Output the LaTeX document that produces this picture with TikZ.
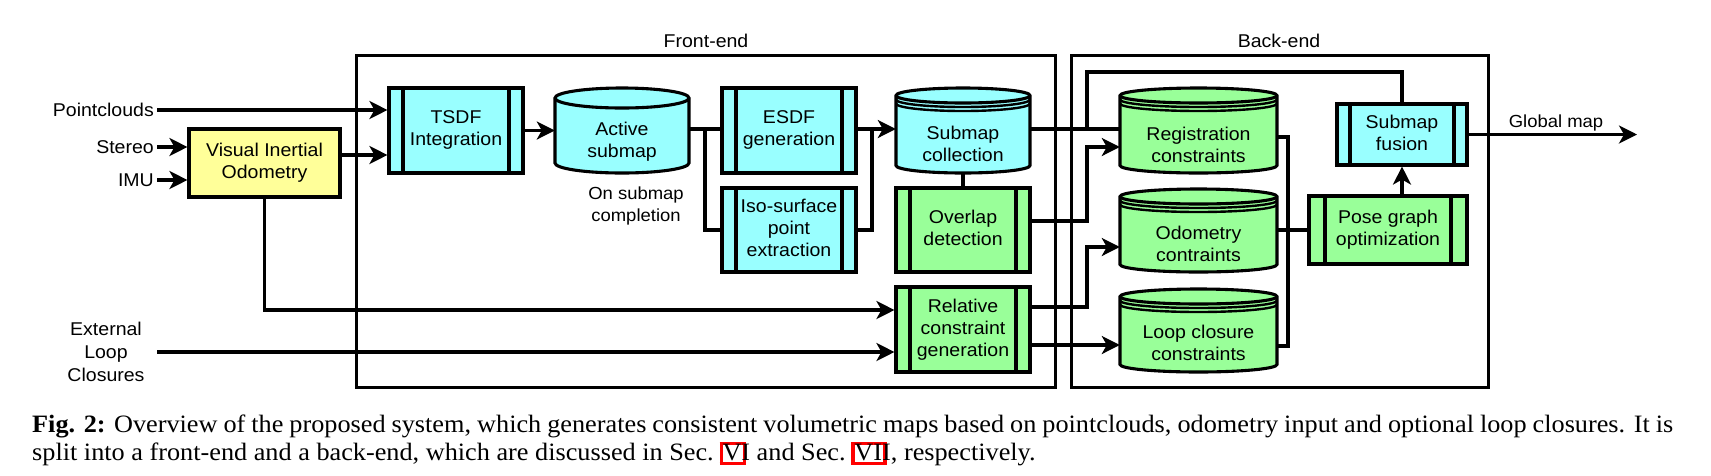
\documentclass[tikz,border=0pt]{standalone}
\usepackage{fontspec}
\setmainfont{Liberation Serif}[FakeStretch=1.05]
\setsansfont{Liberation Sans}[FakeStretch=1.055]
\usetikzlibrary{arrows.meta}
\definecolor{cyanf}{HTML}{99FFFF}
\definecolor{greenf}{HTML}{99FF99}
\definecolor{yellowf}{HTML}{FFFF99}
\newcommand\lnkbox[1]{\makebox[0pt][l]{\kern-3pt\textcolor{red}{\setlength\fboxrule{3.2pt}\setlength\fboxsep{0pt}\raisebox{-1.5pt}{\fbox{\rule{0pt}{16pt}\kern0.5pt\phantom{#1}\kern0.5pt}}}}#1}
\newcommand\cylshape[7]{%
  \pgfmathsetmacro\cylrx{(#3-#1)/2}%
  \filldraw[line width=3.1pt, fill=#6] (#1,{#2+#5}) -- (#1,{#4-#5})
    arc[start angle=180, end angle=360, x radius=\cylrx pt, y radius=#5pt]
    -- (#3,{#2+#5})
    arc[start angle=0, end angle=180, x radius=\cylrx pt, y radius=#5pt] -- cycle;
  \draw[line width=3.1pt] (#1,{#2+#5}) arc[start angle=180, end angle=360, x radius=\cylrx pt, y radius=#5pt];
  \ifnum#7=1
    \draw[line width=2.4pt] (#1,{#2+#5+4}) arc[start angle=180, end angle=360, x radius=\cylrx pt, y radius=#5pt];
    \draw[line width=2.4pt] (#1,{#2+#5+8}) arc[start angle=180, end angle=360, x radius=\cylrx pt, y radius=#5pt];
  \fi
}
\begin{document}
\begin{tikzpicture}[x=1pt,y=-1pt,
  every node/.style={font=\sffamily\fontsize{18.5}{22}\selectfont, inner sep=0pt, align=center},
  lbl/.style={inner xsep=3pt},
  small/.style={font=\sffamily\fontsize{17.5}{21.5}\selectfont},
  txt/.style={execute at begin node={\rule{0pt}{19pt}}, execute at end node={\rule[-4pt]{0pt}{4pt}}},
  bars/.style={path picture={\draw[line width=3.1pt]
      ([xshift=#1]path picture bounding box.north west) -- ([xshift=#1]path picture bounding box.south west)
      ([xshift=-#1]path picture bounding box.north east) -- ([xshift=-#1]path picture bounding box.south east);}},
  proc/.style={txt, draw, line width=3.1pt, fill=cyanf, minimum width=134pt, minimum height=85pt, bars=14pt},
  frame/.style={draw, line width=3pt, minimum height=332pt},
  ln/.style={line width=3.1pt},
  arr/.style={line width=3.1pt, -{Stealth[length=18pt,width=18pt,inset=5pt]}},
  capf/.style={font=\rmfamily\fontsize{25}{28}\selectfont, anchor=base west, align=left}
]
\fill[white] (0,0) rectangle (1711,475);
\useasboundingbox (0,0) rectangle (1711,475);

% group frames
\node[frame, minimum width=699pt] (fe) at (705.5,221) {};
\node[frame, minimum width=417pt] (be) at (1279.5,221) {};
\node (fel) at (706,41) {Front-end};
\node (bel) at (1279,41) {Back-end};

% inputs
\node[lbl, anchor=east] (pcl) at (157,110) {Pointclouds};
\node[lbl, anchor=east] (ster) at (157,147) {Stereo};
\node[lbl, anchor=east] (imu) at (157,180) {IMU};
\node[font=\sffamily\fontsize{18.5}{23}\selectfont] (ext) at (106,352) {External\\Loop\\Closures};
\coordinate (extout) at (157,352);

% front-end
\node[txt, draw, line width=3.1pt, fill=yellowf, minimum width=151pt, minimum height=68pt] (vio) at (264.5,163) {Visual Inertial\\Odometry};
\node[proc] (tsdf) at (456,130.5) {TSDF\\Integration};
\cylshape{555}{88}{689}{173}{10}{cyanf}{0}
\node[txt, minimum width=134pt] (act) at (622,141.5) {Active\\submap};
\node[small] (onsc) at (636,206) {On submap\\completion};
\node[proc] (esdf) at (789,130.5) {ESDF\\generation};
\node[proc, minimum height=84pt] (iso) at (789,230) {Iso-surface\\point\\extraction};
\cylshape{896}{88}{1030}{173}{7.5}{cyanf}{1}
\node[txt, minimum width=134pt] (sc) at (963,146) {Submap\\collection};
\node[proc, fill=greenf, minimum height=84pt] (ov) at (963,230) {Overlap\\detection};
\node[proc, fill=greenf] (rel) at (963,329.5) {Relative\\constraint\\generation};

% back-end
\cylshape{1120}{88}{1277}{173}{7.5}{greenf}{1}
\node[txt, minimum width=157pt] (reg) at (1198.5,146.5) {Registration\\constraints};
\cylshape{1120}{189}{1277}{272}{7.5}{greenf}{1}
\node[txt, minimum width=157pt] (odo) at (1198.5,245.5) {Odometry\\contraints};
\cylshape{1120}{289}{1277}{372}{7.5}{greenf}{1}
\node[txt, minimum width=157pt] (loop) at (1198.5,345) {Loop closure\\constraints};
\node[proc, fill=greenf, bars=16pt, minimum width=158pt, minimum height=68pt] (pose) at (1388,230) {Pose graph\\optimization};
\node[proc, bars=13pt, minimum width=130pt, minimum height=61pt] (fus) at (1402,134.5) {Submap\\fusion};
\coordinate (gm) at (1637,134.5);
\node[small, anchor=base] (gml) at (1556,127) {Global map};

% connectors
\draw[arr] (pcl.east) -- (tsdf.west |- pcl.east);
\draw[arr] (ster.east) -- (vio.west |- ster.east);
\draw[arr] (imu.east) -- (vio.west |- imu.east);
\draw[arr] (vio.east |- 0,155) -- (tsdf.west |- 0,155);
\draw[arr] (vio.south) |- (rel.west |- 0,310);
\draw[arr] (extout) -- (rel.west |- extout);
\draw[arr] (tsdf.east) -- (act.west |- tsdf.east);
\draw[ln] (act.east |- 0,129) -- (esdf.west |- 0,129);
\draw[ln] (705,129) |- (iso.west);
\draw[arr] (esdf.east |- 0,129) -- (sc.west |- 0,129);
\draw[ln] (iso.east) -| (872,129);
\draw[ln] (ov.north) -- (ov.north |- 0,173);
\draw[ln] (sc.east |- 0,129) -- (reg.west |- 0,129);
\draw[ln] (1087,129) |- (fus.north |- 0,72) -- (fus.north);
\draw[arr] (ov.east |- 0,221) -- (1087,221) |- (reg.west |- 0,147);
\draw[arr] (rel.east |- 0,307) -- (1087,307) |- (odo.west |- 0,247);
\draw[arr] (rel.east |- 0,345) -- (loop.west |- 0,345);
\draw[ln] (reg.east |- 0,137) -- (1288,137) |- (loop.east |- 0,346);
\draw[ln] (odo.east |- 0,230) -- (pose.west);
\draw[arr] (pose.north -| fus.south) -- (fus.south);
\draw[arr] (fus.east) -- (gm);

% caption
\node[capf] (cap1) at (32,432) {\makebox[1641pt][s]{\textbf{Fig. 2:} Overview of the proposed system, which generates consistent volumetric maps based on pointclouds, odometry input and optional loop closures. It is}};
\node[capf] (cap2) at (32,460) {split into a front-end and a back-end, which are discussed in Sec. \lnkbox{V}I and Sec. \lnkbox{VI}I, respectively.};
\end{tikzpicture}
\end{document}
